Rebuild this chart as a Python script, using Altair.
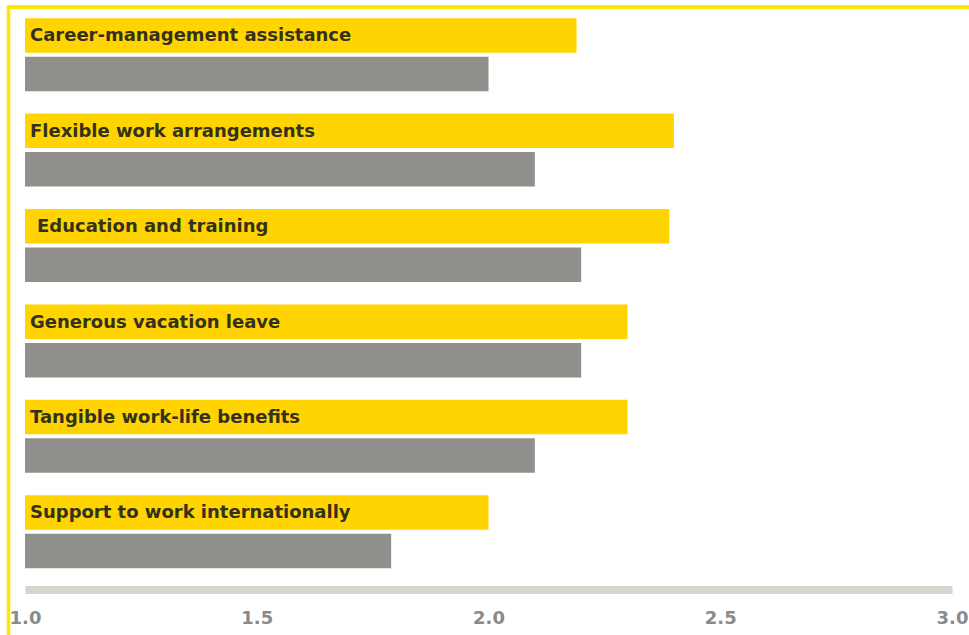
import altair as alt
import pandas as pd

categories = [
    "Career-management assistance",
    "Flexible work arrangements",
    "Education and training",
    "Generous vacation leave",
    "Tangible work-life benefits",
    "Support to work internationally",
]
indented = ["Education and training"]
yellow_values = [2.19, 2.40, 2.39, 2.30, 2.30, 2.00]
gray_values = [2.00, 2.10, 2.20, 2.20, 2.10, 1.79]
series_names = ["Series A", "Series B"]
series_colors = ["#FFD400", "#918F8C"]
axis_ticks = [1.0, 1.5, 2.0, 2.5, 3.0]
base_value = 1.0

rows = []
for cat, yv, gv in zip(categories, yellow_values, gray_values):
    ind = cat in indented
    rows.append({"category": cat, "series": series_names[0], "value": yv, "base": base_value, "indent": ind})
    rows.append({"category": cat, "series": series_names[1], "value": gv, "base": base_value, "indent": ind})
df = pd.DataFrame(rows)

W = 927
H = 572.4

y_enc = alt.Y("category:N", sort=categories, axis=None,
              scale=alt.Scale(paddingInner=0.235, paddingOuter=0.1175))
yoff_enc = alt.YOffset("series:N", sort=series_names,
                       scale=alt.Scale(paddingInner=0.104, paddingOuter=0))
x_scale = alt.Scale(domain=[1, 3], zero=False, nice=False)

bars = alt.Chart(df).mark_bar(cornerRadius=0).encode(
    x=alt.X("base:Q", scale=x_scale,
            axis=alt.Axis(values=axis_ticks, format=".1f", title=None, grid=False,
                          ticks=False, domain=True, domainColor="#D5D5D0", domainWidth=8,
                          domainCap="butt", offset=10, labelPadding=20,
                          labelFont="DejaVu Sans", labelFontSize=18, labelFontWeight="bold",
                          labelColor="#8A8A8A", labelFlush=False)),
    x2="value:Q",
    y=y_enc,
    yOffset=yoff_enc,
    color=alt.Color("series:N", sort=series_names,
                    scale=alt.Scale(domain=series_names, range=series_colors), legend=None),
)

def label_layer(indent_flag, dx):
    return alt.Chart(df).transform_filter(
        (alt.datum.series == series_names[0]) & (alt.datum.indent == indent_flag)
    ).mark_text(align="left", baseline="middle", dx=dx, dy=1, font="DejaVu Sans",
                fontSize=18, fontWeight="bold", color="#33311C").encode(
        x=alt.X("base:Q", scale=x_scale),
        y=y_enc,
        yOffset=yoff_enc,
        text="category:N",
    )

labels_plain = label_layer(False, 5)
labels_indent = label_layer(True, 12)

frame_df = pd.DataFrame({"k": [0]})
frame_left = alt.Chart(frame_df).mark_rule(color="#FFE600", strokeWidth=3.5).encode(
    x=alt.value(-16.5), y=alt.value(-2), y2=alt.value(640)
)
frame_top = alt.Chart(frame_df).mark_rule(color="#FFE600", strokeWidth=4).encode(
    x=alt.value(-18), x2=alt.value(960), y=alt.value(0)
)

chart = alt.layer(bars, labels_plain, labels_indent, frame_left, frame_top).properties(
    width=W, height=H,
    autosize=alt.AutoSizeParams(type="none"),
    padding={"left": 25, "top": 7, "right": 17, "bottom": 56},
    background="white",
).configure_view(stroke=None)

chart.save("out.html", embed_options={"renderer": "svg", "actions": False})
